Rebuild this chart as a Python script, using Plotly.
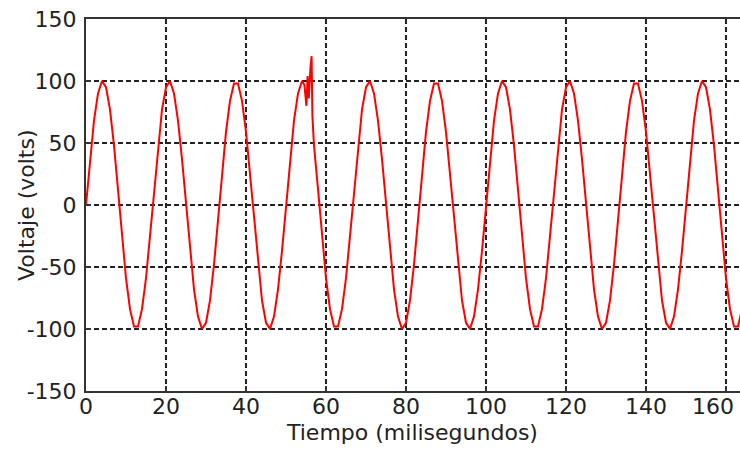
import plotly.graph_objects as go

# Sample times (ms); extra points around the transient near 55-57 ms
t_ms = list(range(0, 55)) + [54.6, 55.1, 55.4, 55.7, 56.1, 56.4, 56.6] + list(range(57, 165))

# Voltage (volts)
volts = [
    # 0-49 ms
    0, 37, 68, 90, 100, 95, 77, 48, 13, -25, -59, -84, -98, -98, -84, -59, -25, 13, 48, 77, 95, 100, 90, 68, 37,
    0, -37, -68, -90, -100, -95, -77, -48, -13, 25, 59, 84, 98, 98, 84, 59, 25, -13, -48, -77, -95, -100, -90, -68, -37,
    # 50-54 ms
    0, 37, 68, 90, 100,
    # transient 54.6-56.6 ms
    97, 80, 104, 86, 110, 120, 72,
    # 57-99 ms
    48, 13, -25, -59, -84, -98, -98, -84, -59, -25, 13, 48, 77, 95, 100, 90, 68, 37,
    0, -37, -68, -90, -100, -95, -77, -48, -13, 25, 59, 84, 98, 98, 84, 59, 25, -13, -48, -77, -95, -100, -90, -68, -37,
    # 100-149 ms
    0, 37, 68, 90, 100, 95, 77, 48, 13, -25, -59, -84, -98, -98, -84, -59, -25, 13, 48, 77, 95, 100, 90, 68, 37,
    0, -37, -68, -90, -100, -95, -77, -48, -13, 25, 59, 84, 98, 98, 84, 59, 25, -13, -48, -77, -95, -100, -90, -68, -37,
    # 150-164 ms
    0, 37, 68, 90, 100, 95, 77, 48, 13, -25, -59, -84, -98, -98, -84,
]
assert len(t_ms) == len(volts)

x_ticks = [0, 20, 40, 60, 80, 100, 120, 140, 160]
x_labels = ["0", "20", "40", "60", "80", "100", "120", "140", "160"]
y_ticks = [-150, -100, -50, 0, 50, 100, 150]
y_labels = ["-150", "-100", "-50", "0", "50", "100", "150"]
x_title = "Tiempo (milisegundos)"
y_title = "Voltaje (volts)"

W, H = 740, 449
ML, MR, MT, MB = 86, 0, 19, 58
PW, PH = W - ML - MR, H - MT - MB

FONT = dict(family="DejaVu Sans", size=22, color="#222222")

fig = go.Figure()
fig.add_trace(go.Scatter(x=t_ms, y=volts, mode="lines",
                         line=dict(color="#ff0000", width=2), hoverinfo="skip"))

axis_common = dict(
    showgrid=True, gridcolor="#222222", gridwidth=1.5, griddash="5px,3px",
    showline=True, linecolor="#333333", linewidth=2,
    ticks="inside", ticklen=5, tickcolor="#333333", tickwidth=1.5,
    zeroline=False, automargin=False,
    tickfont=FONT,
)

# the last x label is pushed left to stay inside the window (as in the original)
x_ticktext = x_labels[:-1] + [""]

fig.update_layout(
    width=W, height=H,
    margin=dict(l=ML, r=MR, t=MT, b=MB, autoexpand=False),
    paper_bgcolor="white", plot_bgcolor="white",
    showlegend=False,
    font=FONT,
    xaxis=dict(range=[0, 163.5], tickvals=x_ticks, ticktext=x_ticktext, mirror=True,
               ticklabelstandoff=-5, **axis_common),
    yaxis=dict(range=[-150, 150], tickvals=y_ticks, ticktext=y_labels, mirror=False,
               ticklabelstandoff=3, **axis_common),
    annotations=[
        dict(text=x_labels[-1], xref="paper", yref="paper",
             x=(736 - ML) / PW, y=-(406 - (MT + PH)) / PH,
             xanchor="right", yanchor="middle", showarrow=False, font=FONT),
        dict(text=x_title, xref="paper", yref="paper",
             x=(412 - ML) / PW, y=-(433 - (MT + PH)) / PH,
             xanchor="center", yanchor="middle", showarrow=False, font=FONT),
        dict(text=y_title, xref="paper", yref="paper",
             x=(26 - ML) / PW, y=0.5, textangle=-90,
             xanchor="center", yanchor="middle", showarrow=False, font=FONT),
    ],
)

fig.write_html("out.html", config={"displayModeBar": False},
               post_script="document.body.style.margin='0px';")
